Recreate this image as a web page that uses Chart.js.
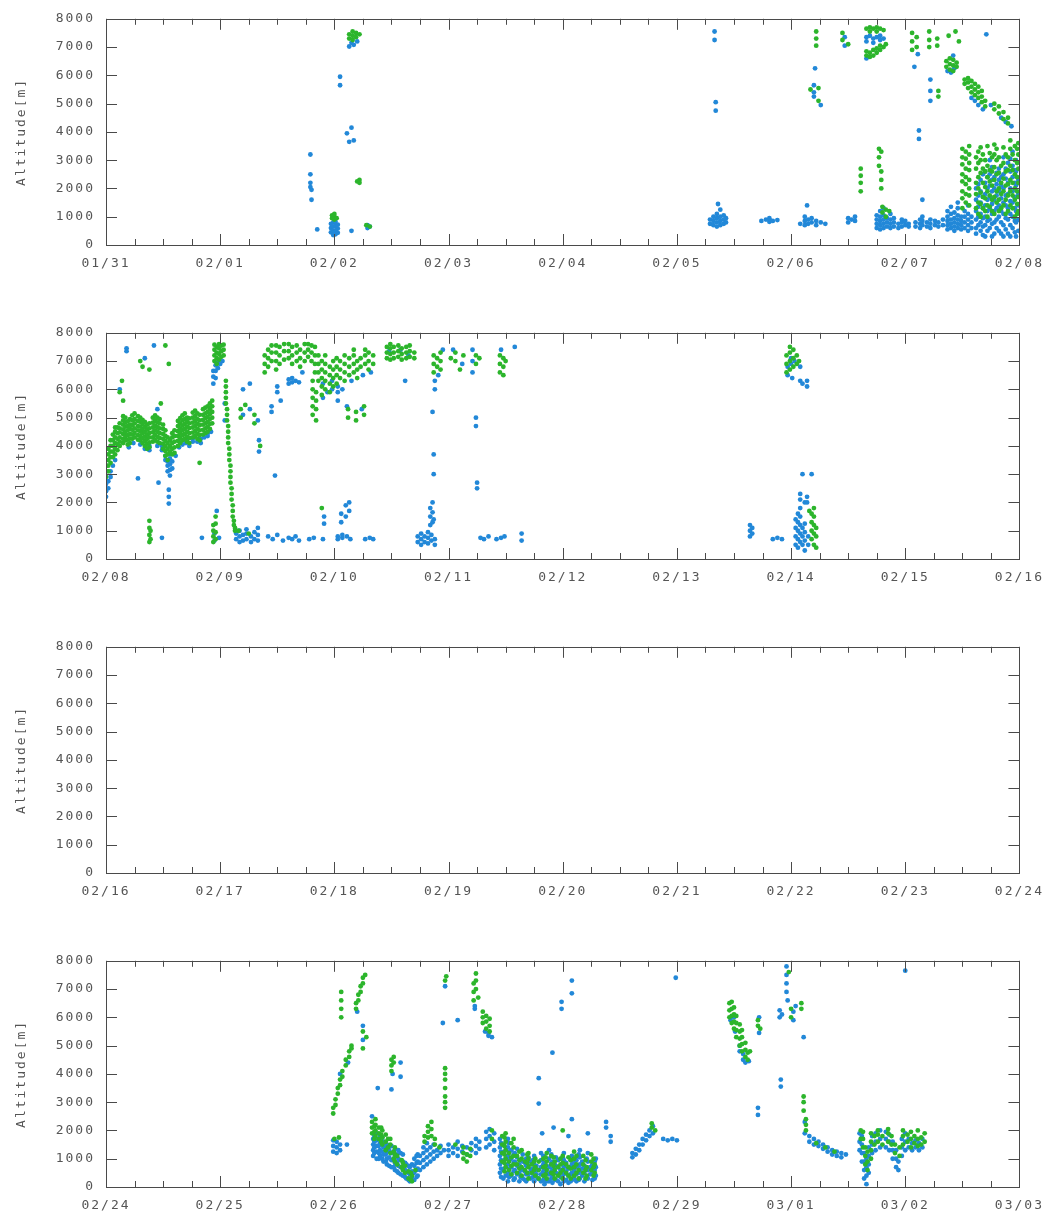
<!DOCTYPE html>
<html>
<head>
<meta charset="utf-8">
<script src="https://cdn.jsdelivr.net/npm/chart.js@4.4.1/dist/chart.umd.min.js"></script>
<style>
  html, body { margin: 0; padding: 0; background: #fff; }
  #wrap { position: relative; width: 1050px; height: 1223px; }
  .panel { position: absolute; left: 0; width: 1050px; height: 314px; }
</style>
</head>
<body>
<div id="wrap">
  <div class="panel" style="top:0px"><canvas id="c0" width="1050" height="314"></canvas></div>
  <div class="panel" style="top:314px"><canvas id="c1" width="1050" height="314"></canvas></div>
  <div class="panel" style="top:628px"><canvas id="c2" width="1050" height="314"></canvas></div>
  <div class="panel" style="top:942px"><canvas id="c3" width="1050" height="314"></canvas></div>
</div>
<script>
// Time is counted in days from 01/31 00:00 (01/31 = 0, 02/01 = 1, ... 03/01 = 30).
// Each observation column is [day, altitude1, altitude2, ...] in metres.

const panelStarts = [0, 8, 16, 24];
const ticks1 = ['01/31', '02/01', '02/02', '02/03', '02/04', '02/05', '02/06', '02/07', '02/08'];
const ticks2 = ['02/08', '02/09', '02/10', '02/11', '02/12', '02/13', '02/14', '02/15', '02/16'];
const ticks3 = ['02/16', '02/17', '02/18', '02/19', '02/20', '02/21', '02/22', '02/23', '02/24'];
const ticks4 = ['02/24', '02/25', '02/26', '02/27', '02/28', '02/29', '03/01', '03/02', '03/03'];

const p1Blue = [
  [1.79, 3200, 2500, 2200, 2050], [1.80, 1950, 1600], [1.85, 550],
  [1.97, 450, 600, 750], [1.99, 350, 500, 650, 800], [2.01, 380, 520, 680, 820], [2.03, 430, 580, 720],
  [2.05, 5950, 5650], [2.11, 3950], [2.13, 3650, 7020], [2.15, 500, 7150, 4150], [2.17, 7080, 3700], [2.20, 7200],
  [2.29, 600, 700], [2.31, 650],
  [5.29, 750, 900], [5.32, 700, 850, 1000], [5.33, 7550, 7250], [5.34, 5050, 4750], [5.35, 650, 800, 950, 1100],
  [5.36, 1450], [5.38, 700, 850, 1000, 1250], [5.41, 750, 900, 1050], [5.43, 800, 950],
  [5.74, 850], [5.78, 900], [5.81, 820, 950], [5.84, 850], [5.88, 880],
  [6.08, 750], [6.12, 700, 850, 1000], [6.14, 1400], [6.15, 750, 900], [6.18, 800, 950],
  [6.20, 5650, 5400, 5250], [6.21, 6250], [6.22, 700, 850], [6.26, 800, 4950], [6.30, 750],
  [6.47, 7350, 7050], [6.50, 800, 950], [6.53, 900], [6.56, 850, 1000],
  [6.66, 7350, 7200, 6600], [6.69, 7400], [6.72, 7300, 7150], [6.75, 7350, 600, 750, 900, 1050],
  [6.78, 7400, 7250, 550, 700, 850, 1000, 1200], [6.81, 7300, 600, 750, 900, 1050, 1300],
  [6.84, 650, 800, 950], [6.87, 600, 750, 900, 1100], [6.90, 650, 800, 950], [6.94, 600, 750],
  [6.97, 650, 800, 900], [7.00, 700, 850], [7.03, 650, 750],
  [7.08, 6300], [7.11, 6750], [7.12, 4050, 3750],
  [7.09, 650, 800], [7.13, 600, 750, 900], [7.15, 700, 850, 1000, 1600], [7.19, 650, 800],
  [7.22, 600, 750, 900, 5850, 5450, 5100], [7.26, 700, 850], [7.29, 650, 800], [7.33, 700, 900],
  [7.37, 6150, 550, 700, 850, 1000, 1200], [7.40, 6100, 600, 750, 900, 1100, 1350], [7.42, 6700],
  [7.43, 6250, 500, 650, 800, 950, 1150], [7.46, 600, 750, 900, 1050, 1300, 1500],
  [7.49, 550, 700, 850, 1000], [7.52, 600, 800, 1000, 1200], [7.55, 500, 700, 900, 1100, 1400],
  [7.58, 600, 800, 1000, 5200], [7.61, 5100], [7.64, 4950], [7.68, 4800], [7.71, 7450],
  [7.75, 4950], [7.84, 4500], [7.88, 4350], [7.93, 4200],
  [7.62, 400, 600, 900, 1200, 1600, 2000], [7.64, 700, 1000, 1350, 1750, 2150],
  [7.66, 500, 800, 1100, 1500, 1900, 2300], [7.68, 350, 650, 950, 1300, 1700, 2500],
  [7.70, 300, 700, 1000, 1400, 1800, 2200, 2600], [7.72, 500, 850, 1200, 1600, 2000, 2400],
  [7.74, 600, 900, 1300, 1700, 2100, 2500, 3000], [7.76, 300, 750, 1100, 1450, 1900, 2300, 2750],
  [7.78, 400, 800, 1200, 1600, 2000, 2400], [7.80, 600, 900, 1300, 1750, 2150, 2550],
  [7.82, 500, 1000, 1400, 1900, 2300, 2700], [7.84, 400, 800, 1200, 1650, 2100, 2400],
  [7.86, 300, 700, 1100, 1500, 2000, 2500, 3100], [7.88, 550, 950, 1400, 1750, 2350, 2700],
  [7.90, 400, 900, 1300, 1800, 2200, 2900], [7.92, 300, 700, 1100, 1550, 2000, 2600, 3050],
  [7.94, 600, 1000, 1500, 1900, 2400, 2800, 3300], [7.96, 450, 850, 1300, 1650, 2200, 2650],
  [7.97, 300, 800, 1200, 1700, 2100, 2600, 3000], [7.99, 500, 900, 1400, 1800, 2300]
];
const p1Green = [
  [1.98, 950, 1050], [2.00, 900, 1000, 1100], [2.02, 950],
  [2.13, 7450, 7300], [2.16, 7550, 7400, 7250], [2.19, 7500, 7350], [2.22, 7450],
  [2.20, 2250], [2.22, 2300, 2200], [2.28, 700], [2.31, 650],
  [6.17, 5500], [6.22, 7550, 7300, 7050], [6.24, 5550, 5100],
  [6.45, 7500, 7250], [6.50, 7100],
  [6.61, 2700, 2450, 2200, 1900],
  [6.66, 7650, 6700, 6850], [6.69, 7700, 7550, 6650, 6800], [6.72, 7650, 6700, 6900],
  [6.75, 7700, 7550, 6800, 6950], [6.77, 3400, 3100, 2800], [6.78, 7650, 6900, 7050],
  [6.79, 3300, 2600, 2300, 2000], [6.80, 1150, 1350], [6.81, 7600, 7000], [6.83, 7100, 1000, 1250], [6.86, 1200],
  [7.06, 7500, 7200, 6900], [7.10, 7350, 7000],
  [7.21, 7550, 7250, 7000], [7.28, 7300, 7050], [7.29, 5450, 5250],
  [7.36, 6300, 6500], [7.38, 7400], [7.39, 6200, 6400, 6600], [7.42, 6150, 6350, 6550],
  [7.44, 7550], [7.45, 6300, 6450], [7.47, 7200],
  [7.50, 1300, 1650, 1900, 2250, 2500, 2850, 3100, 3400], [7.53, 1500, 1800, 2150, 2400, 2700, 3050, 3300],
  [7.56, 1400, 1750, 2000, 2300, 2650, 2900, 3200, 3500],
  [7.52, 5700, 5850], [7.55, 5550, 5750, 5900], [7.58, 5400, 5600, 5800], [7.61, 5300, 5500, 5700],
  [7.64, 5200, 5400, 5600], [7.67, 5050, 5250, 5450], [7.70, 4900, 5100],
  [7.78, 5000, 4800], [7.82, 4900, 4650], [7.86, 4700, 4450], [7.90, 4500, 4300],
  [7.62, 1300, 1800, 2200, 2700, 3100], [7.64, 1100, 1500, 2000, 2400, 2900, 3300],
  [7.66, 1000, 1450, 1850, 2550, 3000, 3450], [7.68, 1300, 1700, 2200, 2700, 3200],
  [7.70, 1200, 1650, 2050, 2600, 3000], [7.72, 1000, 1400, 1900, 2400, 2800, 3500],
  [7.74, 1350, 1750, 2250, 2650, 3250], [7.76, 1200, 1600, 2100, 2600, 3100],
  [7.78, 1100, 1700, 2300, 2750, 3200, 3550], [7.80, 1500, 1900, 2500, 3000, 3400],
  [7.82, 1200, 1600, 2000, 2550, 3100], [7.84, 1300, 1800, 2200, 2800],
  [7.86, 1400, 1900, 2350, 2900, 3450], [7.88, 1100, 1600, 2100, 2600, 3200],
  [7.90, 1200, 1750, 2150, 2650, 3100], [7.92, 1400, 1900, 2300, 2800, 3400, 3700],
  [7.94, 1300, 1750, 2200, 2650, 3200], [7.96, 1000, 1600, 2000, 2500, 3000, 3500],
  [7.98, 1100, 1450, 1900, 2400, 2900, 3400], [7.99, 1200, 1700, 2200, 2700, 3200, 3600]
];

const p2Blue = [
  [8.00, 2200, 2400, 2650], [8.02, 2500, 2750], [8.04, 2900, 3100], [8.06, 3300], [8.08, 3500],
  [8.12, 6000], [8.18, 7450, 7350], [8.20, 3950], [8.24, 4100], [8.28, 2850], [8.30, 4050],
  [8.34, 3900, 7100], [8.38, 3850, 4000], [8.42, 7550], [8.45, 4000, 5300], [8.46, 2700],
  [8.49, 3850, 4000, 750], [8.52, 3500, 3650], [8.54, 3100, 3300, 3450],
  [8.55, 2450, 2200, 1960], [8.56, 2950, 3150, 3350, 3550, 3700], [8.58, 3200, 3450],
  [8.61, 3650], [8.64, 3950], [8.67, 4050], [8.70, 4100, 4200], [8.73, 4000], [8.76, 4150, 4250],
  [8.80, 4150], [8.83, 4100, 4250], [8.84, 750], [8.86, 4300], [8.89, 4350, 4450], [8.92, 4500],
  [8.94, 6200, 6450, 6650], [8.96, 6400, 6650, 6850], [8.98, 6750, 6950], [9.00, 6900], [9.02, 7000],
  [8.95, 650, 900], [8.97, 1700], [8.99, 750], [9.04, 5500, 4900],
  [9.14, 700, 900], [9.17, 600, 800, 1000], [9.20, 650, 850, 5100, 6000], [9.23, 700, 900, 1050],
  [9.26, 5300, 6200], [9.27, 600, 800], [9.30, 700, 950], [9.33, 650, 850, 1100, 4900],
  [9.34, 4200, 3800], [9.42, 800], [9.45, 5400, 5200], [9.46, 700], [9.48, 2950], [9.50, 850, 5900, 6100],
  [9.53, 5600], [9.55, 650], [9.60, 750, 6200, 6350], [9.63, 6250, 6400, 700], [9.66, 6300, 800],
  [9.69, 6250, 650], [9.72, 6600], [9.78, 700], [9.82, 750],
  [9.90, 5700, 6200, 700], [9.91, 1250, 1500], [9.94, 5900], [9.98, 6000, 6300],
  [10.03, 5600, 5900, 6100, 800, 700], [10.06, 1300, 1600], [10.07, 6000, 750, 850],
  [10.10, 1900, 1500], [10.11, 5400, 800], [10.13, 1700, 2000], [10.14, 700], [10.15, 6300],
  [10.24, 5300], [10.25, 6500], [10.27, 700], [10.31, 750], [10.32, 6600], [10.34, 700],
  [10.48, 7350], [10.58, 7400], [10.62, 6300], [10.65, 7200],
  [10.73, 600, 800], [10.76, 500, 700, 900], [10.79, 600, 800], [10.82, 550, 750, 950],
  [10.84, 1200, 1500, 1800], [10.85, 650, 850], [10.86, 1300, 1650, 2000, 5200], [10.87, 1400, 3700, 3000],
  [10.88, 500, 700, 6300, 6000], [10.91, 6500], [10.95, 7400],
  [11.04, 7400], [11.12, 6900], [11.21, 7400, 7000, 6600], [11.24, 5000, 4700], [11.25, 2700, 2500],
  [11.28, 750], [11.31, 700], [11.35, 800], [11.42, 700], [11.46, 750, 7400], [11.49, 800],
  [11.58, 7500], [11.64, 900, 650],
  [13.64, 800, 1000, 1200], [13.66, 900, 1100], [13.84, 700], [13.88, 750], [13.92, 700],
  [13.97, 6500, 6800], [14.00, 6900, 7100], [14.01, 6400], [14.03, 7000],
  [14.08, 6300, 6800], [14.10, 6200], [14.14, 6300, 6100],
  [14.04, 500, 800, 1100, 1400], [14.06, 400, 700, 1000, 1300, 1600],
  [14.08, 600, 900, 1200, 1500, 1800, 2300, 2100], [14.10, 500, 800, 1100, 3000],
  [14.12, 300, 650, 950, 1250, 2000], [14.14, 2200, 2000], [14.15, 500, 800], [14.18, 3000]
];
const p2Green = [
  [8.00, 2900, 3100, 3300, 3500], [8.02, 3100, 3300, 3500, 3700, 3900],
  [8.04, 3400, 3600, 3800, 4000, 4200], [8.06, 3600, 3800, 4000, 4200, 4400],
  [8.08, 3700, 3900, 4100, 4300, 4500, 4650], [8.10, 3850, 4050, 4250, 4450, 4650],
  [8.12, 4000, 4150, 4300, 4480, 4620, 4800, 5900], [8.14, 6300],
  [8.15, 4100, 4250, 4420, 4580, 4750, 4900, 5050, 5600], [8.17, 4200, 4350, 4500, 4680, 4830, 5000],
  [8.19, 4050, 4220, 4380, 4550, 4700, 4870], [8.21, 4100, 4260, 4420, 4600, 4750, 4950],
  [8.23, 4250, 4400, 4570, 4730, 4900, 5080], [8.25, 4300, 4460, 4620, 4800, 4950, 5150],
  [8.28, 4220, 4380, 4550, 4700, 4880, 5050], [8.30, 4200, 4350, 4520, 4680, 4850, 5000, 7000],
  [8.32, 4100, 4280, 4450, 4600, 4780, 4920, 6800], [8.34, 4000, 4170, 4330, 4500, 4680, 4850],
  [8.36, 3900, 4080, 4250, 4400, 4580, 4750], [8.38, 3950, 4120, 4300, 4460, 4620, 4800, 6700],
  [8.38, 600, 850, 1100, 1350], [8.39, 700, 1000],
  [8.41, 4150, 4300, 4480, 4650, 4820, 5000], [8.43, 4200, 4380, 4550, 4720, 4900, 5080],
  [8.45, 4150, 4320, 4500, 4660, 4830, 5000], [8.47, 4100, 4280, 4450, 4620, 4800, 4950],
  [8.48, 5500], [8.50, 3900, 4080, 4250, 4420, 4600, 4750], [8.52, 3650, 3820, 4000, 4180, 4350, 4550, 7550],
  [8.54, 3500, 3700, 3900, 4100, 4300], [8.55, 6900], [8.56, 3800, 4000, 4200],
  [8.58, 3700, 3900, 4100, 4300, 4450], [8.60, 3750, 3950, 4150, 4350, 4550],
  [8.63, 4000, 4180, 4350, 4520, 4700, 4880], [8.65, 4100, 4280, 4450, 4620, 4800, 4980],
  [8.67, 4200, 4380, 4550, 4720, 4900, 5080], [8.69, 4250, 4420, 4600, 4780, 4950, 5150],
  [8.71, 4150, 4320, 4500, 4680, 4850, 5000], [8.73, 4100, 4280, 4450, 4630, 4800, 4970],
  [8.76, 4300, 4470, 4650, 4820, 5000, 5180], [8.78, 4350, 4520, 4700, 4880, 5050, 5250],
  [8.80, 4250, 4420, 4600, 4780, 4950, 5150], [8.82, 4200, 4380, 4550, 4730, 4900, 5100, 3400],
  [8.85, 4400, 4570, 4750, 4920, 5100, 5300], [8.87, 4450, 4620, 4800, 4980, 5150, 5350],
  [8.89, 4500, 4680, 4850, 5030, 5200, 5400], [8.91, 4600, 4780, 4950, 5130, 5300, 5500],
  [8.93, 4800, 5000, 5200, 5400, 5600],
  [8.94, 600, 800, 1000, 1200], [8.96, 700, 950, 1250, 1500],
  [8.95, 7000, 7200, 7400, 7580], [8.97, 6900, 7100, 7300, 7500], [8.99, 7050, 7250, 7450, 7600],
  [9.01, 7150, 7350, 7550], [9.03, 7200, 7400, 7580],
  [9.05, 6300, 6100, 5900, 5700, 5500], [9.06, 5300, 5100, 4900], [9.07, 4700, 4500, 4300, 4100],
  [9.08, 3900, 3700, 3500], [9.09, 3300, 3100, 2900, 2700], [9.10, 2500, 2300, 2100],
  [9.11, 1900, 1700, 1500], [9.12, 1350, 1200], [9.13, 1100, 1000],
  [9.16, 1000], [9.18, 5300, 5000], [9.22, 5450], [9.25, 900], [9.30, 5100, 4800], [9.35, 4000],
  [9.39, 6600, 6900, 7200], [9.42, 6800, 7100, 7400], [9.45, 7000, 7300, 7550],
  [9.49, 6700, 7000, 7300, 7550], [9.52, 6900, 7200, 7500], [9.56, 7050, 7350, 7600],
  [9.60, 7100, 7350, 7600], [9.63, 6900, 7200, 7500], [9.67, 7000, 7300, 7550],
  [9.70, 6800, 7100, 7400], [9.74, 7000, 7300, 7600], [9.77, 7150, 7400, 7600],
  [9.80, 7000, 7300, 7550], [9.81, 5100, 5400, 5700, 6000, 6300], [9.83, 6600, 6900, 7200, 7500],
  [9.84, 4900, 5300, 5600, 5900], [9.86, 6300, 6600, 6900, 7200], [9.89, 5800, 6100, 6400, 6700, 7000, 1800],
  [9.92, 6000, 6300, 6600, 6900, 7200], [9.96, 5900, 6200, 6500, 6800], [9.99, 6100, 6400, 6700, 7000],
  [10.02, 6200, 6500, 6800, 7100], [10.05, 6400, 6700, 7000], [10.09, 6300, 6600, 6900, 7200],
  [10.12, 5300, 5000], [10.13, 6500, 6800, 7100], [10.17, 6600, 6900, 7200, 7400],
  [10.19, 5200, 4900], [10.20, 6400, 6700, 7000],
  [10.23, 6800, 7100], [10.26, 5400, 5100], [10.27, 6900, 7200, 7400], [10.30, 6700, 7000, 7300], [10.34, 6900, 7200],
  [10.46, 7100, 7300, 7500], [10.49, 7050, 7250, 7450, 7600], [10.52, 7100, 7300, 7500],
  [10.56, 7150, 7350, 7550], [10.59, 7050, 7250, 7450], [10.63, 7100, 7300, 7500],
  [10.66, 7150, 7350, 7550], [10.70, 7100, 7300],
  [10.87, 6600, 6900, 7200], [10.90, 6800, 7100], [10.93, 6700, 7000, 7300],
  [11.02, 7100], [11.06, 7300, 7000], [11.10, 6700], [11.13, 7200],
  [11.24, 7200, 6900], [11.27, 7100],
  [11.45, 6600, 6900, 7200], [11.48, 6500, 6800, 7100], [11.50, 7000],
  [13.96, 6600, 6900, 7200], [13.99, 6700, 7000, 7300, 7500], [14.02, 6800, 7100, 7400],
  [14.05, 6900, 7200], [14.07, 7000],
  [14.16, 1700], [14.18, 700, 1000, 1300, 1600], [14.20, 500, 900, 1200, 1500, 1800], [14.22, 400, 800, 1100]
];

const p3Blue = [];
const p3Green = [];

const p4Blue = [
  [25.99, 1250, 1450, 1650], [26.02, 1200, 1400, 1600], [26.05, 1300, 1500, 4000],
  [26.11, 1500], [26.12, 4400], [26.20, 6200], [26.25, 5700, 5200], [26.33, 2500],
  [26.34, 1100, 1300, 1500, 1700], [26.35, 1200, 1400, 1600, 1800], [26.37, 1000, 1250, 1450, 1650, 1900],
  [26.38, 3500], [26.39, 1000, 1200, 1450, 1700],
  [26.40, 1100, 1300, 1550, 1800], [26.42, 1000, 1250, 1500, 1750], [26.43, 900, 1150, 1400, 1600],
  [26.45, 900, 1150, 1400], [26.46, 800, 1000, 1250, 1500], [26.48, 750, 1050, 1300],
  [26.50, 700, 950, 1200, 1450, 3450], [26.51, 4000], [26.52, 700, 950, 1250], [26.53, 600, 850, 1100, 1350],
  [26.55, 550, 850, 1150], [26.56, 500, 750, 1000, 1300], [26.58, 4400, 3900, 450, 700, 950, 1200],
  [26.60, 400, 650, 900, 1150], [26.62, 350, 600, 850],
  [26.63, 300, 550, 800], [26.65, 250, 500, 750], [26.66, 200, 450, 700], [26.68, 300, 550, 800],
  [26.70, 250, 500, 750, 1000], [26.72, 350, 600, 850, 1100], [26.73, 400, 650, 900, 1150],
  [26.75, 600, 850, 1100], [26.78, 700, 950, 1200, 1400], [26.81, 800, 1050, 1300, 1550],
  [26.84, 900, 1150, 1400], [26.87, 1000, 1250, 1500], [26.90, 1100, 1300], [26.93, 1200, 1450],
  [26.95, 5800], [26.96, 1300], [26.97, 7100],
  [27.00, 1100, 1300, 1500], [27.04, 1200, 1400], [27.08, 1100, 1350, 1600, 5900], [27.12, 1250, 1450],
  [27.16, 1150, 1400], [27.20, 1300, 1550], [27.23, 6400, 6300], [27.24, 1200, 1450, 1700], [27.27, 1350, 1600],
  [27.32, 5500], [27.33, 1400, 1700, 1950], [27.35, 5350, 5450], [27.36, 1500, 1800, 2050], [27.38, 5300],
  [27.40, 1300, 1600, 1900],
  [27.45, 500, 800, 1100, 1400, 1700], [27.46, 350, 650, 950, 1250, 1550], [27.48, 300, 600, 900, 1200, 1500],
  [27.50, 400, 700, 1000, 1300],
  [27.52, 200, 500, 800, 1100, 1400, 1700], [27.53, 350, 650, 950, 1250, 1550],
  [27.55, 400, 700, 1000, 1300], [27.57, 250, 550, 850, 1150], [27.58, 300, 600, 900, 1200],
  [27.60, 450, 750, 1050, 1350], [27.62, 200, 500, 800], [27.63, 350, 650, 950],
  [27.65, 300, 600, 900, 1150], [27.67, 250, 550, 850], [27.68, 200, 450, 750, 1000],
  [27.70, 450, 750, 1050], [27.72, 300, 600, 900], [27.74, 350, 650, 950],
  [27.75, 200, 500, 800, 1100], [27.77, 450, 750], [27.78, 300, 600],
  [27.79, 3850, 2950], [27.82, 1900], [27.91, 4750], [27.92, 2100], [27.99, 6550, 6300],
  [27.81, 200, 450, 700, 950, 1200], [27.83, 250, 550, 800, 1100], [27.84, 100, 350, 600, 850],
  [27.86, 200, 500, 750], [27.88, 200, 450, 700, 1000, 1300], [27.90, 300, 550, 850, 1150],
  [27.91, 150, 400, 650, 900], [27.93, 250, 550, 800], [27.94, 250, 500, 750, 1050],
  [27.96, 200, 450, 700, 950], [27.98, 100, 350, 600], [28.00, 300, 550, 800, 1050],
  [28.01, 200, 450, 700, 950, 1200], [28.03, 250, 550, 850], [28.05, 150, 400, 650, 1800],
  [28.07, 200, 450, 700, 950], [28.08, 250, 500, 800, 1100, 7300, 6850, 2400],
  [28.10, 300, 600, 850], [28.12, 200, 450, 700, 950], [28.14, 250, 500, 750, 1150],
  [28.15, 300, 550, 800, 1050, 1300], [28.17, 400, 650, 900], [28.19, 200, 500, 750],
  [28.21, 350, 650, 1000], [28.22, 300, 600, 900, 1200, 1900], [28.24, 450, 700],
  [28.26, 250, 500, 800], [28.28, 300, 600, 900], [28.29, 400, 700, 1000],
  [28.38, 2300, 2100], [28.42, 1800, 1600],
  [28.61, 1050, 1200], [28.64, 1150, 1350], [28.67, 1300, 1500], [28.70, 1500, 1700],
  [28.73, 1650, 1850], [28.76, 1800, 2000], [28.79, 1900, 2150],
  [28.88, 1700], [28.92, 1650], [28.96, 1700], [28.99, 7400], [29.00, 1650],
  [29.47, 5900], [29.50, 6000], [29.51, 5500], [29.55, 4800, 5000], [29.58, 4500, 4700], [29.60, 4400], [29.63, 4450],
  [29.71, 2800, 2550], [29.72, 5450, 6000],
  [29.90, 6250, 6000], [29.91, 3800, 3550], [29.92, 6100],
  [29.96, 7800, 7500, 7200, 6900], [29.97, 6600], [30.02, 6200, 5900], [30.04, 6400], [30.11, 5300],
  [30.12, 1900, 2300],
  [30.16, 1800, 1600], [30.20, 1700, 1500], [30.24, 1600, 1450], [30.28, 1500, 1350], [30.32, 1400, 1250],
  [30.36, 1300, 1150], [30.40, 1250, 1100], [30.44, 1200, 1050], [30.48, 1150],
  [30.60, 1300, 1600, 1900], [30.62, 900, 1200, 1500, 1800], [30.64, 300, 600, 900, 1200],
  [30.66, 100, 400, 700, 1000], [30.68, 500, 800, 1100, 1400], [30.71, 1200, 1500, 1800],
  [30.74, 1300, 1600, 1900], [30.78, 1400, 1700, 2000],
  [30.83, 1400, 1700, 1950], [30.86, 1300, 1600, 1850], [30.89, 1000, 1300, 1600],
  [30.92, 700, 1000, 1300], [30.94, 600, 900], [30.97, 1100, 1400, 1700], [31.00, 1300, 1600, 1900, 7650],
  [31.03, 1400, 1700], [31.06, 1300, 1550], [31.09, 1400, 1650], [31.12, 1300, 1550], [31.15, 1400, 1700]
];
const p4Green = [
  [25.99, 2600, 2800], [26.00, 1700], [26.01, 2900, 3100], [26.03, 3300, 3500], [26.04, 1750],
  [26.05, 3600, 3800], [26.06, 6900, 6600, 6300, 6000], [26.07, 3900, 4100], [26.10, 4300, 4500],
  [26.13, 4600, 4800], [26.15, 4900, 5000],
  [26.19, 6300, 6500], [26.21, 6600, 6800], [26.23, 6900, 7100], [26.25, 7200, 7400, 5500, 4900],
  [26.27, 7500], [26.28, 5300],
  [26.33, 1900, 2100, 2300], [26.35, 1700, 1950, 2150], [26.36, 1800, 2000, 2200, 2400], [26.39, 1700, 1900, 2100],
  [26.41, 1600, 1850, 2100], [26.42, 1500, 1750, 2000], [26.45, 1300, 1600, 1850], [26.47, 1400, 1700],
  [26.49, 1200, 1500, 1700],
  [26.50, 4100, 4300, 4500], [26.52, 1000, 1250, 4600, 4400], [26.53, 900, 1150, 1400], [26.55, 800, 1100],
  [26.59, 700, 950], [26.60, 600, 850],
  [26.62, 500, 750], [26.65, 300, 550], [26.67, 250, 500], [26.68, 200, 400], [26.71, 600],
  [26.79, 1600, 1800], [26.82, 1750, 1950, 2150], [26.85, 1800, 2050, 2300], [26.88, 1500, 1700], [26.92, 1400],
  [26.97, 4200, 4000, 3800, 3500, 3200, 3000, 2800, 7300], [26.98, 7450],
  [27.06, 1500], [27.13, 1000, 1200, 1400], [27.16, 900, 1150], [27.19, 1100, 1350],
  [27.22, 6600, 6900, 7200], [27.24, 7000, 7300, 7550], [27.26, 6700],
  [27.30, 5800, 6000, 6200], [27.33, 5600, 5850, 6050], [27.36, 5500, 5700, 5950], [27.38, 1700, 2000],
  [27.47, 900, 1200, 1500, 1800], [27.49, 550, 850, 1150, 1450, 1750], [27.50, 700, 1000, 1300, 1600, 1900],
  [27.53, 600, 900, 1200], [27.55, 450, 750, 1050, 1550],
  [27.57, 800, 1100, 1400, 1700], [27.60, 500, 800, 1100], [27.62, 650, 950, 1250], [27.64, 400, 700, 1000, 1300],
  [27.67, 600, 900], [27.69, 500, 850, 1150], [27.70, 300, 700, 1000, 1200], [27.73, 500, 800],
  [27.75, 600, 900], [27.76, 400, 700, 1000], [27.79, 300, 600, 900],
  [27.83, 400, 700, 1000], [27.85, 450, 750, 1050], [27.86, 300, 600, 900, 1200], [27.90, 500, 800, 1100],
  [27.92, 450, 750, 1050], [27.93, 300, 600, 900], [27.96, 400, 700], [27.98, 500, 800, 1000],
  [28.00, 300, 600, 850, 1100, 2000], [28.03, 500, 800], [28.05, 400, 700, 1050], [28.07, 300, 650, 950],
  [28.10, 400, 700, 1000, 1250], [28.12, 500, 800, 1100], [28.14, 300, 600], [28.18, 500, 800, 1100],
  [28.20, 300, 600, 950], [28.21, 400, 700], [28.25, 600, 900, 1150], [28.27, 400, 700, 1000], [28.28, 500, 800],
  [28.78, 2100, 2250], [28.81, 2000],
  [29.46, 6000, 6250, 6500], [29.48, 5800, 6050, 6300, 6550], [29.50, 5600, 5850, 6100, 6350],
  [29.52, 5300, 5550, 5800, 6050], [29.55, 5000, 5250, 5500, 5750], [29.57, 4800, 5050, 5300, 5550],
  [29.60, 4600, 4850, 5100], [29.62, 4500, 4750], [29.64, 4800],
  [29.71, 5700, 5900], [29.73, 5600],
  [29.98, 7600], [30.00, 6000, 6300], [30.09, 6500, 6300],
  [30.11, 3200, 3000, 2700], [30.13, 2400, 2200, 2000],
  [30.22, 1550], [30.30, 1400], [30.38, 1250],
  [30.61, 1700, 2000], [30.63, 1400, 1700, 1950], [30.65, 800, 1100, 1400], [30.67, 600, 900, 1250],
  [30.70, 1000, 1300, 1600, 1900], [30.73, 1500, 1800], [30.76, 1600, 1850, 2000], [30.80, 1500, 1800],
  [30.85, 1600, 1900, 2050], [30.88, 1500, 1800], [30.91, 1200, 1500], [30.95, 1100, 1400],
  [30.98, 1500, 1800, 2000], [31.02, 1600, 1850], [31.05, 1400, 1700, 1950], [31.08, 1550, 1800],
  [31.11, 1450, 1700, 2000], [31.14, 1500, 1750], [31.17, 1600, 1900]
];

const BLUE = '#2288d8';
const GREEN = '#2cb52c';
const TEXT = '#555555';
const FONT = { family: "'DejaVu Sans Mono', monospace", size: 13 };

// flatten [day, alt, alt, ...] columns into scatter points
function expand(cols) {
  const pts = [];
  for (const c of cols) for (let i = 1; i < c.length; i++) pts.push({ x: c[0], y: c[i] });
  return pts;
}

// gnuplot-like frame: full box with inward ticks (days major, 6 h minor; 1000 m on y)
const frameTicks = {
  id: 'frameTicks',
  afterDatasetsDraw(chart) {
    const { ctx, chartArea: a, scales: { x, y } } = chart;
    ctx.save();
    ctx.strokeStyle = '#4a4a4a';
    ctx.lineWidth = 1;
    ctx.beginPath();
    const n = Math.round((x.max - x.min) * 4);
    for (let i = 0; i <= n; i++) {
      const px = Math.round(x.getPixelForValue(x.min + i / 4)) + 0.5;
      const len = i % 4 === 0 ? 11 : 6;
      ctx.moveTo(px, a.bottom); ctx.lineTo(px, a.bottom - len);
      ctx.moveTo(px, a.top); ctx.lineTo(px, a.top + len);
    }
    for (let v = y.min; v <= y.max; v += 1000) {
      const py = Math.round(y.getPixelForValue(v)) + 0.5;
      ctx.moveTo(a.left, py); ctx.lineTo(a.left + 11, py);
      ctx.moveTo(a.right, py); ctx.lineTo(a.right - 11, py);
    }
    ctx.stroke();
    ctx.strokeRect(Math.round(a.left) + 0.5, Math.round(a.top) + 0.5,
      Math.round(a.right - a.left), Math.round(a.bottom - a.top));
    ctx.restore();
  }
};

// slightly wider text spacing for the axis labels
const wideText = {
  id: 'wideText',
  beforeDraw(chart) { chart.ctx.letterSpacing = '2px'; }
};

const panels = [
  { start: panelStarts[0], ticks: ticks1, blue: p1Blue, green: p1Green },
  { start: panelStarts[1], ticks: ticks2, blue: p2Blue, green: p2Green },
  { start: panelStarts[2], ticks: ticks3, blue: p3Blue, green: p3Green },
  { start: panelStarts[3], ticks: ticks4, blue: p4Blue, green: p4Green }
];

const pointStyle = { pointRadius: 2.4, pointHoverRadius: 0, pointBorderWidth: 0, showLine: false };

panels.forEach((p, i) => {
  new Chart(document.getElementById('c' + i), {
    type: 'scatter',
    data: {
      datasets: [
        Object.assign({ label: 'green', data: expand(p.green), backgroundColor: GREEN }, pointStyle),
        Object.assign({ label: 'blue', data: expand(p.blue), backgroundColor: BLUE }, pointStyle)
      ]
    },
    options: {
      responsive: false,
      animation: false,
      events: [],
      layout: { padding: { top: 16, right: 29, bottom: 0, left: 0 } },
      plugins: { legend: { display: false }, tooltip: { enabled: false } },
      scales: {
        x: {
          type: 'linear',
          min: p.start,
          max: p.start + 8,
          grid: { display: false, drawTicks: false },
          border: { display: false },
          ticks: {
            stepSize: 1, autoSkip: false, maxRotation: 0, padding: 11,
            color: TEXT, font: FONT,
            callback: v => p.ticks[Math.round(v - p.start)] ?? ''
          },
          afterFit: s => { s.height = 69; }
        },
        y: {
          min: 0,
          max: 8000,
          grid: { display: false, drawTicks: false },
          border: { display: false },
          ticks: { stepSize: 1000, padding: 11, color: TEXT, font: FONT, callback: v => String(v) },
          title: { display: true, text: 'Altitude[m]', color: TEXT, font: FONT, padding: { top: 14, bottom: 0 } },
          afterFit: s => { s.width = 106; }
        }
      }
    },
    plugins: [wideText, frameTicks]
  });
});
</script>
</body>
</html>
